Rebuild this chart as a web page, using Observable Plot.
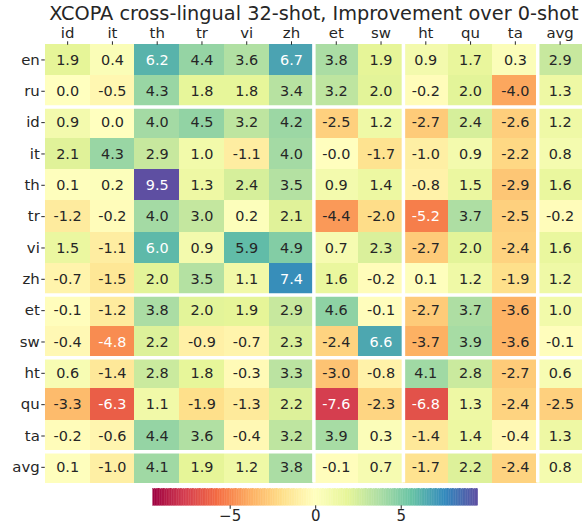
<!DOCTYPE html>
<html><head><meta charset="utf-8">
<script src="https://cdn.jsdelivr.net/npm/d3@7"></script>
<script src="https://cdn.jsdelivr.net/npm/@observablehq/plot@0.6"></script>
<style>
html,body{margin:0;padding:0;background:#fff;overflow:hidden;width:582px;height:529px}
svg{display:block}
</style></head><body><div id="chart"></div><script>
const title = "XCOPA cross-lingual 32-shot, Improvement over 0-shot";
const colLabels = ["id","it","th","tr","vi","zh","et","sw","ht","qu","ta","avg"];
const rowLabels = ["en","ru","id","it","th","tr","vi","zh","et","sw","ht","qu","ta","avg"];
const rowEn  = [1.9, 0.4, 6.2, 4.4, 3.6, 6.7, 3.8, 1.9, 0.9, 1.7, 0.3, 2.9];
const rowRu  = [0.0, -0.5, 4.3, 1.8, 1.8, 3.4, 3.2, 2.0, -0.2, 2.0, -4.0, 1.3];
const rowId  = [0.9, 0.0, 4.0, 4.5, 3.2, 4.2, -2.5, 1.2, -2.7, 2.4, -2.6, 1.2];
const rowIt  = [2.1, 4.3, 2.9, 1.0, -1.1, 4.0, -0.04, -1.7, -1.0, 0.9, -2.2, 0.8];
const rowTh  = [0.1, 0.2, 9.5, 1.3, 2.4, 3.5, 0.9, 1.4, -0.8, 1.5, -2.9, 1.6];
const rowTr  = [-1.2, -0.2, 4.0, 3.0, 0.2, 2.1, -4.4, -2.0, -5.2, 3.7, -2.5, -0.2];
const rowVi  = [1.5, -1.1, 6.0, 0.9, 5.9, 4.9, 0.7, 2.3, -2.7, 2.0, -2.4, 1.6];
const rowZh  = [-0.7, -1.5, 2.0, 3.5, 1.1, 7.4, 1.6, -0.2, 0.1, 1.2, -1.9, 1.2];
const rowEt  = [-0.1, -1.2, 3.8, 2.0, 1.9, 2.9, 4.6, -0.1, -2.7, 3.7, -3.6, 1.0];
const rowSw  = [-0.4, -4.8, 2.2, -0.9, -0.7, 2.3, -2.4, 6.6, -3.7, 3.9, -3.6, -0.1];
const rowHt  = [0.6, -1.4, 2.8, 1.8, -0.3, 3.3, -3.0, -0.8, 4.1, 2.8, -2.7, 0.6];
const rowQu  = [-3.3, -6.3, 1.1, -1.9, -1.3, 2.2, -7.6, -2.3, -6.8, 1.3, -2.4, -2.5];
const rowTa  = [-0.2, -0.6, 4.4, 3.6, -0.4, 3.2, 3.9, 0.3, -1.4, 1.4, -0.4, 1.3];
const rowAvg = [0.1, -1.0, 4.1, 1.9, 1.2, 3.8, -0.1, 0.7, -1.7, 2.2, -2.4, 0.8];
const values = [rowEn, rowRu, rowId, rowIt, rowTh, rowTr, rowVi, rowZh, rowEt, rowSw, rowHt, rowQu, rowTa, rowAvg];
const rowBreaks = [2, 8, 10, 13];
const colBreaks = [6, 8, 11];
const colorbarTicks = [-5, 0, 5];
const colorDomain = [-9.5, 9.5];

const cells = [];
values.forEach((row, r) => row.forEach((v, c) => cells.push({r, c, v})));

const stops = d3.schemeSpectral[11];
const stopDomain = stops.map((_, i) => colorDomain[0] + i * (colorDomain[1] - colorDomain[0]) / (stops.length - 1));
const colorScale = {type: "linear", domain: stopDomain, range: stops, interpolate: "rgb"};
const cmap = d3.scaleLinear().domain(stopDomain).range(stops).interpolate(d3.interpolateRgb).clamp(true);
function lum(c) {
  const {r, g, b} = d3.rgb(c);
  const f = x => { x /= 255; return x <= 0.03928 ? x / 12.92 : Math.pow((x + 0.055) / 1.055, 2.4); };
  return 0.2126 * f(r) + 0.7152 * f(g) + 0.0722 * f(b);
}
const isDark = d => lum(cmap(d.v)) > 0.408;

const ink = "#262626";
const style = {fontFamily: "DejaVu Sans", fontSize: "15px", color: ink, background: "white"};
const fmtTick = d => d < 0 ? "\u2212" + (-d) : String(d);
const xTicks = colLabels.map((_, i) => i + 0.5);
const yTicks = rowLabels.map((_, i) => i + 0.5);

const main = Plot.plot({
  width: 585, height: 487,
  marginLeft: 45, marginRight: 0, marginTop: 44, marginBottom: 2,
  style,
  x: {domain: [0, colLabels.length]},
  y: {domain: [0, rowLabels.length], reverse: true},
  color: colorScale,
  marks: [
    Plot.rect(cells, {x1: "c", x2: d => d.c + 1, y1: "r", y2: d => d.r + 1, fill: "v", shapeRendering: "crispEdges"}),
    Plot.text(cells.filter(isDark), {x: d => d.c + 0.5, y: d => d.r + 0.5, text: d => d.v.toFixed(1), fill: ink, fontSize: 14.5}),
    Plot.text(cells.filter(d => !isDark(d)), {x: d => d.c + 0.5, y: d => d.r + 0.5, text: d => d.v.toFixed(1), fill: "white", fontSize: 14.5}),
    Plot.ruleY(rowBreaks, {stroke: "white", strokeWidth: 3.5}),
    Plot.ruleX(colBreaks, {stroke: "white", strokeWidth: 3.5}),
    Plot.axisX({anchor: "top", ticks: xTicks, tickFormat: t => colLabels[Math.floor(t)], tickSize: 3.5, tickPadding: 3, fontSize: 15, label: null, stroke: ink, fill: ink}),
    Plot.axisY({anchor: "left", ticks: yTicks, tickFormat: t => rowLabels[Math.floor(t)], tickSize: 3.5, tickPadding: 2, fontSize: 15, label: null, stroke: ink, fill: ink}),
    Plot.text([title], {frameAnchor: "top", lineAnchor: "middle", dy: -31, fontSize: 19.4, fill: ink})
  ]
});

const step = 0.1;
const n = Math.round((colorDomain[1] - colorDomain[0]) / step);
const ramp = d3.range(n).map(i => colorDomain[0] + i * step);
const bar = Plot.plot({
  width: 582, height: 42,
  marginLeft: 152.7, marginRight: 104.3, marginTop: 3.7, marginBottom: 21.7,
  style,
  x: {domain: colorDomain},
  color: colorScale,
  marks: [
    Plot.rect(ramp, {x1: d => d, x2: d => d + step, fill: d => d + step / 2, stroke: d => d + step / 2, strokeWidth: 0.4}),
    Plot.axisX({anchor: "bottom", ticks: colorbarTicks, tickFormat: fmtTick, tickSize: 3.5, tickPadding: 1, fontSize: 15, label: null, stroke: ink, fill: ink})
  ]
});

const root = document.getElementById("chart");
root.appendChild(main);
root.appendChild(bar);
</script></body></html>
